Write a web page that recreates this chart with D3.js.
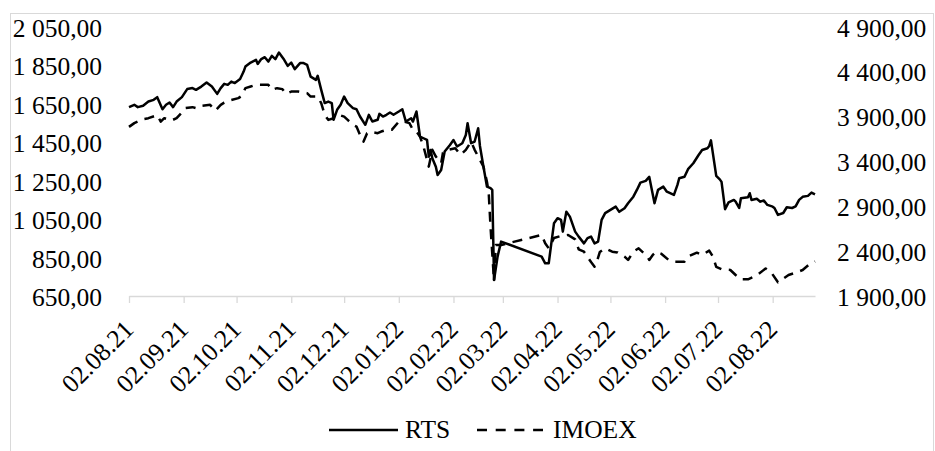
<!DOCTYPE html>
<html><head><meta charset="utf-8">
<script src="https://cdn.jsdelivr.net/npm/d3@7"></script>
<style>
html,body{margin:0;padding:0;background:#fff;}
svg{display:block;}
text{font-family:"Liberation Serif","Times New Roman",serif;fill:#000;}
</style></head>
<body>
<svg id="chart" width="935" height="451"></svg>
<script>
const rtsDates = ["2021-08-02","2021-08-05","2021-08-07","2021-08-10","2021-08-13","2021-08-16","2021-08-18","2021-08-21","2021-08-23","2021-08-25","2021-08-27","2021-08-29","2021-09-01","2021-09-04","2021-09-07","2021-09-09","2021-09-12","2021-09-15","2021-09-18","2021-09-21","2021-09-23","2021-09-25","2021-09-27","2021-09-29","2021-10-01","2021-10-04","2021-10-06","2021-10-07","2021-10-10","2021-10-13","2021-10-14","2021-10-16","2021-10-18","2021-10-20","2021-10-22","2021-10-24","2021-10-26","2021-10-29","2021-10-31","2021-11-02","2021-11-04","2021-11-07","2021-11-09","2021-11-11","2021-11-13","2021-11-16","2021-11-17","2021-11-19","2021-11-21","2021-11-23","2021-11-25","2021-11-26","2021-11-28","2021-11-30","2021-12-02","2021-12-04","2021-12-07","2021-12-09","2021-12-11","2021-12-14","2021-12-16","2021-12-18","2021-12-21","2021-12-22","2021-12-24","2021-12-26","2021-12-28","2021-12-30","2022-01-02","2022-01-04","2022-01-06","2022-01-09","2022-01-10","2022-01-12","2022-01-14","2022-01-16","2022-01-18","2022-01-19","2022-01-20","2022-01-21","2022-01-23","2022-01-24","2022-01-26","2022-01-28","2022-01-31","2022-02-02","2022-02-04","2022-02-07","2022-02-09","2022-02-10","2022-02-12","2022-02-14","2022-02-16","2022-02-17","2022-02-19","2022-02-21","2022-02-23","2022-02-24","2022-02-25","2022-02-27","2022-03-01","2022-03-24","2022-03-26","2022-03-28","2022-03-31","2022-04-02","2022-04-04","2022-04-05","2022-04-07","2022-04-09","2022-04-12","2022-04-14","2022-04-17","2022-04-19","2022-04-21","2022-04-23","2022-04-25","2022-04-27","2022-04-29","2022-05-02","2022-05-05","2022-05-07","2022-05-10","2022-05-12","2022-05-15","2022-05-17","2022-05-19","2022-05-22","2022-05-24","2022-05-27","2022-05-29","2022-06-01","2022-06-03","2022-06-07","2022-06-09","2022-06-10","2022-06-13","2022-06-15","2022-06-18","2022-06-21","2022-06-23","2022-06-26","2022-06-27","2022-06-28","2022-07-01","2022-07-03","2022-07-04","2022-07-06","2022-07-08","2022-07-11","2022-07-12","2022-07-14","2022-07-15","2022-07-19","2022-07-20","2022-07-21","2022-07-24","2022-07-26","2022-07-28","2022-07-30","2022-08-02","2022-08-03","2022-08-05","2022-08-08","2022-08-10","2022-08-13","2022-08-15","2022-08-17","2022-08-19","2022-08-22","2022-08-24","2022-08-26"];
const rtsValues = [1633,1645,1633,1640,1662,1671,1685,1622,1645,1657,1633,1662,1685,1727,1732,1723,1740,1761,1740,1702,1732,1754,1749,1766,1758,1779,1818,1844,1865,1879,1858,1883,1893,1870,1900,1883,1917,1879,1848,1865,1831,1862,1862,1853,1792,1775,1796,1723,1654,1662,1654,1567,1619,1645,1688,1654,1628,1622,1584,1541,1593,1558,1567,1598,1584,1593,1605,1593,1610,1622,1558,1575,1558,1610,1480,1471,1462,1375,1410,1367,1323,1280,1306,1402,1436,1462,1428,1445,1488,1549,1445,1454,1523,1431,1323,1219,1211,1202,733,855,933,855,820,820,1029,1055,1046,985,1089,1063,985,959,924,951,959,924,933,1046,1081,1098,1115,1088,1107,1133,1167,1202,1240,1249,1270,1133,1202,1219,1193,1176,1228,1263,1271,1310,1341,1384,1410,1419,1431,1460,1275,1257,1244,1102,1137,1150,1141,1108,1159,1164,1185,1150,1156,1141,1147,1124,1115,1108,1072,1082,1112,1108,1116,1150,1166,1171,1188,1179];

const imoexDates = ["2021-08-02","2021-08-05","2021-08-10","2021-08-13","2021-08-18","2021-08-20","2021-08-22","2021-08-26","2021-08-29","2021-09-01","2021-09-03","2021-09-07","2021-09-09","2021-09-12","2021-09-17","2021-09-20","2021-09-23","2021-09-25","2021-09-28","2021-10-03","2021-10-05","2021-10-07","2021-10-10","2021-10-13","2021-10-16","2021-10-20","2021-10-22","2021-10-25","2021-10-28","2021-10-30","2021-11-02","2021-11-06","2021-11-11","2021-11-13","2021-11-17","2021-11-19","2021-11-21","2021-11-23","2021-11-26","2021-11-29","2021-12-02","2021-12-04","2021-12-07","2021-12-09","2021-12-11","2021-12-13","2021-12-15","2021-12-17","2021-12-21","2021-12-23","2021-12-26","2021-12-29","2022-01-02","2022-01-05","2022-01-08","2022-01-10","2022-01-12","2022-01-14","2022-01-16","2022-01-18","2022-01-19","2022-01-21","2022-01-23","2022-01-26","2022-01-27","2022-01-30","2022-02-03","2022-02-06","2022-02-09","2022-02-12","2022-02-14","2022-02-17","2022-02-19","2022-02-21","2022-02-22","2022-02-23","2022-02-25","2022-02-26","2022-03-01","2022-03-24","2022-03-26","2022-03-28","2022-03-31","2022-04-04","2022-04-08","2022-04-12","2022-04-14","2022-04-17","2022-04-21","2022-04-23","2022-04-24","2022-04-26","2022-04-29","2022-05-03","2022-05-06","2022-05-10","2022-05-12","2022-05-15","2022-05-18","2022-05-23","2022-05-24","2022-05-26","2022-05-28","2022-05-31","2022-06-04","2022-06-07","2022-06-13","2022-06-15","2022-06-20","2022-06-23","2022-06-27","2022-06-29","2022-07-01","2022-07-04","2022-07-09","2022-07-12","2022-07-15","2022-07-19","2022-07-22","2022-07-25","2022-07-29","2022-08-01","2022-08-05","2022-08-07","2022-08-11","2022-08-15","2022-08-19","2022-08-23","2022-08-26"];
const imoexValues = [3786,3828,3872,3883,3917,3845,3883,3857,3883,3946,3995,4006,3995,4021,4032,3968,4032,4057,4080,4107,4132,4218,4236,4255,4255,4255,4199,4218,4207,4155,4180,4180,4162,4124,4124,4051,3920,3864,3883,3920,3901,3864,3809,3790,3697,3622,3716,3730,3716,3734,3753,3753,3845,3845,3828,3753,3734,3678,3566,3418,3343,3530,3455,3381,3496,3530,3548,3474,3530,3622,3530,3418,3343,3172,3046,2673,2067,2469,2469,2581,2488,2432,2547,2570,2581,2531,2421,2394,2279,2227,2265,2391,2432,2394,2386,2339,2302,2394,2432,2339,2302,2358,2394,2369,2302,2283,2283,2341,2383,2358,2406,2343,2224,2198,2190,2134,2086,2086,2112,2146,2207,2168,2053,2079,2134,2160,2190,2257,2285];

const leftTicks = [650,850,1050,1250,1450,1650,1850,2050];
const rightTicks = [1900,2400,2900,3400,3900,4400,4900];
const xTickDates = ["2021-08-02","2021-09-02","2021-10-02","2021-11-02","2021-12-02","2022-01-02","2022-02-02","2022-03-02","2022-04-02","2022-05-02","2022-06-02","2022-07-02","2022-08-02"];
const seriesNames = ["RTS","IMOEX"];

(function(){
const parse = d3.utcParse("%Y-%m-%d");
const fmtDate = d3.utcFormat("%d.%m.%y");
const locale = d3.formatLocale({decimal:",", thousands:" ", grouping:[3], currency:["",""]});
const fmtNum = locale.format(",.2f");

const svg = d3.select("#chart");
const pLeft = 129, pRight = 815, pTop = 27, pBottom = 296;
const FS = 25.5;
const FF = '"Liberation Serif","Times New Roman",serif';

svg.append("rect").attr("x",10.5).attr("y",13.5).attr("width",923).attr("height",445)
  .attr("fill","none").attr("stroke","#d9d9d9").attr("stroke-width",1);

const x = d3.scaleUtc().domain([parse("2021-08-02"), parse("2022-08-26")]).range([pLeft, pRight]);
const yL = d3.scaleLinear().domain([650, 2050]).range([pBottom, pTop]);
const yR = d3.scaleLinear().domain([1900, 4900]).range([pBottom, pTop]);

const xAxis = d3.axisBottom(x).tickValues(xTickDates.map(parse)).tickFormat(fmtDate)
  .tickSize(7).tickSizeOuter(0);
const gx = svg.append("g").attr("transform",`translate(0,${pBottom})`).call(xAxis);
gx.select(".domain").attr("stroke","#d9d9d9").attr("stroke-width",1.3);
gx.selectAll(".tick line").attr("stroke","#d9d9d9").attr("stroke-width",1.3);
gx.selectAll(".tick text")
  .attr("x",0).attr("y",0).attr("dy",0)
  .attr("text-anchor","end")
  .attr("transform","translate(5.5,35) rotate(-45)")
  .style("font-family",FF).style("font-size",FS+"px").attr("fill","#000");

const gl = svg.append("g").attr("transform","translate(102,0)")
  .call(d3.axisLeft(yL).tickValues(leftTicks).tickFormat(fmtNum).tickSize(0).tickPadding(0));
gl.select(".domain").remove();
gl.selectAll(".tick text").attr("x",0).attr("dy",9.5)
  .style("font-family",FF).style("font-size",FS+"px").attr("fill","#000");

const gr = svg.append("g").attr("transform","translate(837,0)")
  .call(d3.axisRight(yR).tickValues(rightTicks).tickFormat(fmtNum).tickSize(0).tickPadding(0));
gr.select(".domain").remove();
gr.selectAll(".tick text").attr("x",0).attr("dy",9)
  .style("font-family",FF).style("font-size",FS+"px").attr("fill","#000");

const rts = rtsDates.map((d,i)=>({date:parse(d), v:rtsValues[i]}));
const imoex = imoexDates.map((d,i)=>({date:parse(d), v:imoexValues[i]}));

svg.append("path").datum(imoex)
  .attr("d", d3.line().x(d=>x(d.date)).y(d=>yR(d.v)))
  .attr("fill","none").attr("stroke","#000").attr("stroke-width",2.5)
  .attr("stroke-dasharray","10,7.5").attr("stroke-linejoin","round");

svg.append("path").datum(rts)
  .attr("d", d3.line().x(d=>x(d.date)).y(d=>yL(d.v)))
  .attr("fill","none").attr("stroke","#000").attr("stroke-width",2.5)
  .attr("stroke-linejoin","round");

const lg = svg.append("g");
lg.append("line").attr("x1",329).attr("x2",398).attr("y1",430).attr("y2",430)
  .attr("stroke","#000").attr("stroke-width",2.5);
lg.append("text").attr("x",405).attr("y",438).style("font-family",FF).style("font-size",FS+"px").text(seriesNames[0]);
lg.append("line").attr("x1",477).attr("x2",543).attr("y1",430).attr("y2",430)
  .attr("stroke","#000").attr("stroke-width",2.5).attr("stroke-dasharray","10,8.7");
lg.append("text").attr("x",553).attr("y",438).style("font-family",FF).style("font-size",FS+"px").text(seriesNames[1]);
})();
</script>
</body></html>
